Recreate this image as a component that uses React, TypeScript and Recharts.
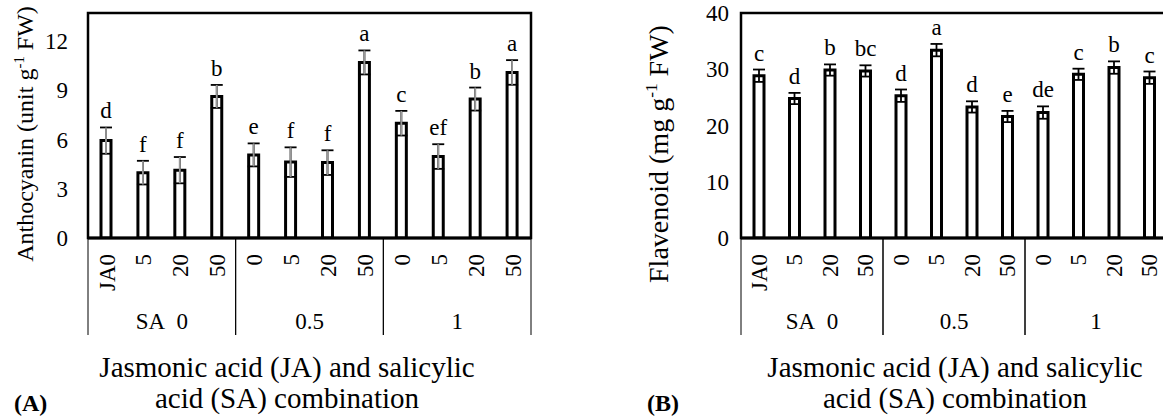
import React from 'react';
import {
  ComposedChart,
  Bar,
  ErrorBar,
  LabelList,
  XAxis,
  YAxis,
  ReferenceArea,
} from 'recharts';

const jaLevels = ['JA0', '5', '20', '50', '0', '5', '20', '50', '0', '5', '20', '50'];
const saLevels = ['SA\u00a0 0', 'SA\u00a0 0', 'SA\u00a0 0', 'SA\u00a0 0', '0.5', '0.5', '0.5', '0.5', '1', '1', '1', '1'];

const anthocyanin = [5.93, 3.98, 4.13, 8.62, 5.06, 4.62, 4.59, 10.69, 6.99, 4.96, 8.46, 10.08];
const anthocyaninErr = [0.8, 0.72, 0.8, 0.7, 0.7, 0.9, 0.75, 0.73, 0.75, 0.75, 0.7, 0.75];
const anthocyaninLetters = ['d', 'f', 'f', 'b', 'e', 'f', 'f', 'a', 'c', 'ef', 'b', 'a'];

const flavonoid = [28.85, 24.8, 29.86, 29.7, 25.3, 33.4, 23.3, 21.6, 22.3, 29.1, 30.3, 28.5];
const flavonoidErr = [1.1, 1.0, 1.0, 1.0, 1.1, 1.1, 1.0, 1.0, 1.1, 1.0, 1.1, 1.1];
const flavonoidLetters = ['c', 'd', 'b', 'bc', 'd', 'a', 'd', 'e', 'de', 'c', 'b', 'c'];

const anthocyaninTicks = [0, 3, 6, 9, 12];
const flavonoidTicks = [0, 10, 20, 30, 40];

const FONT = '"Liberation Serif", "Times New Roman", serif';

const buildRows = (values: number[], errs: number[], letters: string[]) =>
  values.map((v, i) => ({
    ja: jaLevels[i],
    sa: saLevels[i],
    value: v,
    err: errs[i],
    letter: letters[i],
  }));

const anthocyaninRows = buildRows(anthocyanin, anthocyaninErr, anthocyaninLetters);
const flavonoidRows = buildRows(flavonoid, flavonoidErr, flavonoidLetters);

// rotated JA tick
const JaTick = (props: any) => {
  const { x, y, payload } = props;
  const ty = y + 8;
  return (
    <text
      x={x}
      y={ty}
      transform={`rotate(-90, ${x}, ${ty})`}
      textAnchor="end"
      dy="0.35em"
      fontSize={23}
      fontFamily={FONT}
      fill="#000"
    >
      {payload.value}
    </text>
  );
};

// SA group tick with the separator lines
const SaTick = (props: any) => {
  const { x, y, payload } = props;
  const half = payload.offset || 0;
  return (
    <g>
      <line x1={x - half} x2={x - half} y1={y - 60} y2={y + 37} stroke="#000" strokeWidth={1} />
      <line x1={x + half} x2={x + half} y1={y - 60} y2={y + 37} stroke="#000" strokeWidth={1} />
      <text x={x} y={y + 31} textAnchor="middle" fontSize={23} fontFamily={FONT} fill="#000">
        {payload.value}
      </text>
    </g>
  );
};

const makeLetter = (rows: any[], gap: number) => (props: any) => {
  const { x, y, width, height, index } = props;
  const row = rows[index];
  const perUnit = height / row.value;
  const capY = y - row.err * perUnit;
  return (
    <text
      x={x + width / 2}
      y={capY - gap}
      textAnchor="middle"
      fontSize={23}
      fontFamily={FONT}
      fill="#000"
    >
      {row.letter}
    </text>
  );
};

const YTitle = ({ x, cy, name, size }: { x: number; cy: number; name: string; size: number }) => (
  <text
    x={x}
    y={cy}
    transform={`rotate(-90, ${x}, ${cy})`}
    textAnchor="middle"
    dy="0.35em"
    fontSize={size}
    fontFamily={FONT}
    fill="#000"
  >
    {name} (
    <tspan>{name === 'Anthocyanin' ? 'unit' : 'mg'} g</tspan>
    <tspan dy={-size * 0.38} fontSize={size * 0.62}>-1</tspan>
    <tspan dy={size * 0.38}> FW)</tspan>
  </text>
);

const XTitle = ({ cx, tag, tagX }: { cx: number; tag: string; tagX: number }) => (
  <svg width={1163} height={417} style={{ position: 'absolute', left: 0, top: 0, pointerEvents: 'none' }}>
    <text x={cx} y={377} textAnchor="middle" fontSize={29} fontFamily={FONT} fill="#000">
      Jasmonic acid (JA) and salicylic
    </text>
    <text x={cx} y={408} textAnchor="middle" fontSize={29} fontFamily={FONT} fill="#000">
      acid (SA) combination
    </text>
    <text x={tagX} y={411} fontSize={24} fontWeight="bold" fontFamily={FONT} fill="#000">
      {tag}
    </text>
  </svg>
);

const Panel = ({
  rows,
  width,
  yWidth,
  right,
  max,
  ticks,
  tickMargin,
  name,
  titleX,
  titleY,
  titleSize,
  errColor,
}: any) => (
  <ComposedChart
    width={width}
    height={417}
    data={rows}
    margin={{ top: 13, right, left: 0, bottom: 79 }}
    barCategoryGap="32%"
  >
    <ReferenceArea y1={0} y2={max} fill="none" stroke="#000" strokeWidth={2.5} ifOverflow="visible" />
    <XAxis
      dataKey="ja"
      height={60}
      tickLine={false}
      axisLine={{ stroke: '#000', strokeWidth: 3 }}
      interval={0}
      tick={<JaTick />}
    />
    <XAxis
      xAxisId="sa"
      dataKey="sa"
      allowDuplicatedCategory={false}
      height={40}
      tickLine={false}
      axisLine={false}
      tickSize={0}
      tickMargin={0}
      interval={0}
      tick={<SaTick />}
    />
    <YAxis
      width={yWidth}
      domain={[0, max]}
      ticks={ticks}
      allowDataOverflow
      axisLine={false}
      tickLine={false}
      tickMargin={tickMargin}
      tick={{ fontSize: 23, fontFamily: FONT, fill: '#000' }}
      label={{ content: () => <YTitle x={titleX} cy={titleY} name={name} size={titleSize} /> }}
    />
    <Bar dataKey="value" barSize={10} fill="#fff" stroke="#000" strokeWidth={3} isAnimationActive={false}>
      <ErrorBar dataKey="err" width={6} stroke="#000" strokeWidth={1.8} direction="y" />
      {errColor !== '#000' && (
        <ErrorBar dataKey="err" width={0} stroke={errColor} strokeWidth={1.8} direction="y" />
      )}
      <LabelList dataKey="letter" content={makeLetter(rows, 9)} />
    </Bar>
  </ComposedChart>
);

export default function App() {
  return (
    <div
      style={{
        position: 'absolute',
        left: 0,
        top: 0,
        width: 1163,
        height: 417,
        overflow: 'hidden',
        background: '#fff',
      }}
    >
      <div style={{ position: 'absolute', left: 0, top: 0 }}>
        <Panel
          rows={anthocyaninRows}
          width={560}
          yWidth={88}
          right={29}
          max={13.7}
          ticks={anthocyaninTicks}
          tickMargin={14}
          name="Anthocyanin"
          titleX={25}
          titleY={134}
          titleSize={24}
          errColor="#999"
        />
      </div>
      <div style={{ position: 'absolute', left: 580, top: 0 }}>
        <Panel
          rows={flavonoidRows}
          width={600}
          yWidth={161}
          right={13}
          max={40}
          ticks={flavonoidTicks}
          tickMargin={6}
          name="Flavenoid"
          titleX={78}
          titleY={154}
          titleSize={28}
          errColor="#000"
        />
      </div>
      <XTitle cx={287} tag="(A)" tagX={14} />
      <XTitle cx={955} tag="(B)" tagX={647} />
    </div>
  );
}
